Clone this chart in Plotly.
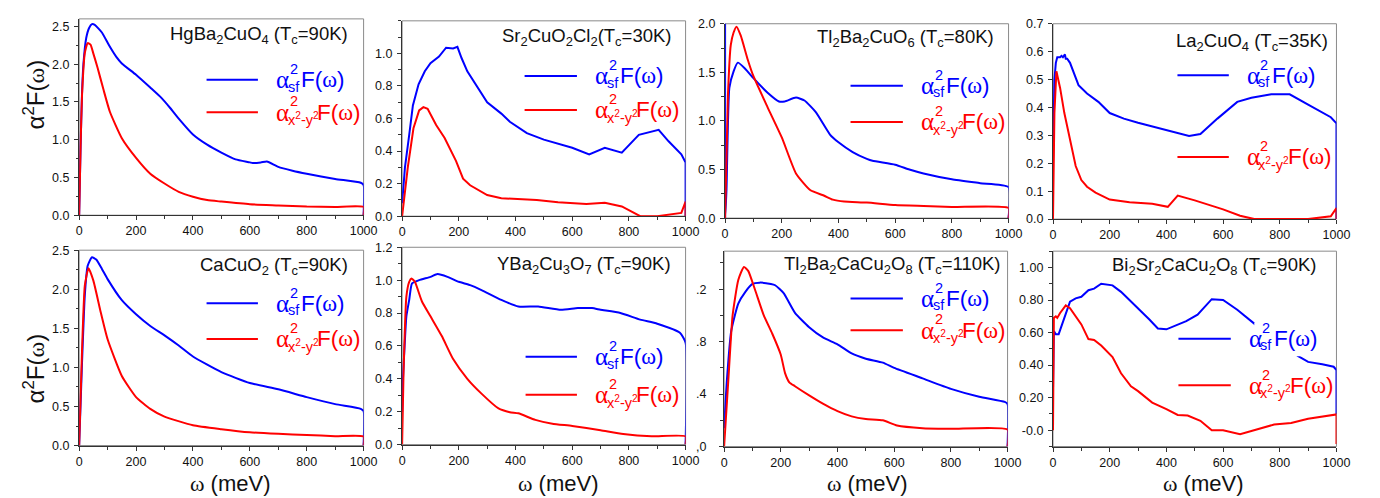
import plotly.graph_objects as go

W, H = 1380, 498

# ------------------------------------------------------------------ data
# 1 HgBa2CuO4
hg_sf_w = [0, 5, 10, 15, 25, 35, 45, 55, 80, 105, 130, 150, 200, 250, 290, 320, 350, 400, 450, 500, 550, 600, 610, 640, 660, 700, 750, 800, 900, 990, 1000, 1000]
hg_sf_a = [0, 0.9, 1.6, 2.0, 2.35, 2.48, 2.53, 2.52, 2.42, 2.25, 2.1, 2.01, 1.86, 1.69, 1.55, 1.42, 1.28, 1.07, 0.935, 0.83, 0.74, 0.70, 0.69, 0.70, 0.71, 0.64, 0.59, 0.55, 0.48, 0.43, 0.40, 0]
hg_d_w = [0, 5, 10, 20, 30, 40, 50, 65, 85, 108, 150, 200, 250, 300, 350, 400, 450, 500, 600, 700, 800, 900, 1000, 1000]
hg_d_a = [0, 0.9, 1.58, 2.15, 2.28, 2.26, 2.14, 1.95, 1.67, 1.37, 1.02, 0.76, 0.55, 0.42, 0.31, 0.245, 0.2, 0.18, 0.145, 0.13, 0.115, 0.11, 0.11, 0]

# 2 Sr2CuO2Cl2
sr_sf_w = [0, 10, 25, 38, 58, 80, 100, 130, 155, 180, 195, 210, 230, 260, 300, 350, 380, 440, 500, 600, 660, 715, 775, 835, 905, 940, 985, 1000, 1000]
sr_sf_a = [0.08, 0.3, 0.5, 0.68, 0.81, 0.89, 0.94, 0.98, 1.035, 1.03, 1.04, 0.97, 0.89, 0.81, 0.70, 0.63, 0.58, 0.51, 0.47, 0.42, 0.38, 0.42, 0.39, 0.50, 0.53, 0.46, 0.38, 0.33, 0]
sr_d_w = [0, 20, 40, 60, 75, 90, 120, 150, 190, 215, 240, 300, 350, 400, 475, 550, 600, 650, 715, 775, 840, 900, 985, 1000, 1000]
sr_d_a = [0, 0.3, 0.54, 0.65, 0.67, 0.66, 0.56, 0.48, 0.34, 0.23, 0.19, 0.13, 0.11, 0.105, 0.10, 0.085, 0.08, 0.075, 0.083, 0.06, 0.0, 0.0, 0.02, 0.09, 0]

# 3 Tl2Ba2CuO6
tl1_sf_w = [0, 0, 5, 15, 30, 45, 70, 100, 150, 190, 210, 250, 280, 320, 370, 400, 450, 500, 520, 600, 650, 700, 800, 900, 1000, 1000]
tl1_sf_a = [2.1, 0, 0.3, 1.34, 1.51, 1.60, 1.54, 1.44, 1.29, 1.20, 1.20, 1.24, 1.21, 1.09, 0.86, 0.78, 0.68, 0.61, 0.59, 0.55, 0.50, 0.46, 0.40, 0.36, 0.32, 0]
tl1_d_w = [0, 10, 20, 30, 40, 55, 80, 100, 150, 200, 250, 300, 350, 380, 420, 500, 600, 700, 800, 1000, 1000]
tl1_d_a = [0, 1.26, 1.78, 1.91, 1.97, 1.88, 1.63, 1.46, 1.14, 0.83, 0.46, 0.29, 0.23, 0.19, 0.17, 0.16, 0.135, 0.125, 0.115, 0.105, 0]

# 4 La2CuO4
la_sf_w = [0, 5, 10, 15, 25, 30, 35, 42, 45, 50, 60, 90, 120, 160, 200, 250, 300, 400, 480, 520, 580, 650, 700, 770, 835, 900, 980, 1000, 1000]
la_sf_a = [0.2, 0.5, 0.56, 0.58, 0.58, 0.585, 0.58, 0.59, 0.575, 0.575, 0.56, 0.48, 0.45, 0.42, 0.38, 0.36, 0.345, 0.32, 0.298, 0.305, 0.36, 0.42, 0.435, 0.447, 0.447, 0.41, 0.365, 0.343, 0]
la_d_w = [0, 5, 12, 25, 40, 60, 80, 100, 120, 150, 200, 270, 350, 405, 440, 500, 600, 660, 710, 900, 980, 1000, 1000]
la_d_a = [0, 0.38, 0.53, 0.47, 0.38, 0.29, 0.19, 0.14, 0.116, 0.095, 0.07, 0.06, 0.055, 0.044, 0.084, 0.067, 0.035, 0.012, 0.0, 0.0, 0.01, 0.04, 0]

# 5 CaCuO2
ca_sf_w = [0, 10, 20, 30, 45, 60, 80, 100, 150, 200, 250, 300, 350, 400, 500, 600, 700, 800, 900, 990, 1000, 1000]
ca_sf_a = [0, 1.05, 1.93, 2.3, 2.41, 2.38, 2.26, 2.13, 1.86, 1.68, 1.53, 1.41, 1.28, 1.14, 0.94, 0.80, 0.72, 0.62, 0.53, 0.47, 0.44, 0]
ca_d_w = [0, 10, 20, 33, 50, 75, 100, 150, 200, 250, 300, 400, 500, 600, 700, 800, 900, 1000, 1000]
ca_d_a = [0, 1.2, 2.05, 2.27, 2.11, 1.72, 1.36, 0.89, 0.62, 0.47, 0.37, 0.26, 0.21, 0.17, 0.15, 0.135, 0.12, 0.115, 0]

# 6 YBa2Cu3O7
y_sf_w = [0, 3, 10, 15, 25, 35, 60, 100, 125, 160, 200, 240, 280, 350, 410, 480, 560, 620, 670, 700, 770, 840, 900, 980, 1000, 1000]
y_sf_a = [0.2, 0.4, 0.64, 0.78, 0.88, 0.98, 1.0, 1.02, 1.037, 1.02, 0.99, 0.97, 0.94, 0.88, 0.84, 0.84, 0.82, 0.83, 0.83, 0.82, 0.80, 0.76, 0.735, 0.68, 0.62, 0]
y_d_w = [0, 5, 15, 25, 33, 45, 70, 100, 140, 180, 230, 280, 340, 380, 410, 470, 530, 600, 700, 780, 880, 1000, 1000]
y_d_a = [0, 0.44, 0.9, 0.99, 1.01, 0.99, 0.87, 0.78, 0.66, 0.52, 0.40, 0.31, 0.22, 0.197, 0.19, 0.15, 0.127, 0.113, 0.087, 0.064, 0.05, 0.05, 0]

# 7 Tl2Ba2CaCu2O8
tl2_sf_w = [0, 10, 25, 50, 75, 100, 125, 165, 180, 210, 250, 300, 350, 400, 450, 500, 560, 600, 700, 800, 900, 990, 1000, 1000]
tl2_sf_a = [0.14, 0.51, 0.88, 1.09, 1.18, 1.24, 1.25, 1.24, 1.23, 1.17, 1.02, 0.91, 0.83, 0.78, 0.71, 0.67, 0.64, 0.60, 0.52, 0.44, 0.38, 0.34, 0.325, 0]
tl2_d_w = [0, 15, 30, 50, 70, 85, 110, 140, 170, 200, 215, 230, 250, 300, 350, 400, 450, 500, 560, 610, 700, 800, 1000, 1000]
tl2_d_a = [0, 0.51, 1.0, 1.27, 1.37, 1.34, 1.19, 1.0, 0.86, 0.70, 0.56, 0.49, 0.46, 0.39, 0.325, 0.27, 0.23, 0.21, 0.20, 0.16, 0.14, 0.135, 0.13, 0]

# 8 Bi2Sr2CaCu2O8
bi_sf_w = [0, 3, 10, 20, 40, 60, 80, 100, 125, 145, 170, 210, 240, 270, 300, 340, 370, 400, 470, 510, 560, 600, 650, 710, 865, 900, 950, 990, 1000, 1000]
bi_sf_a = [0.25, 0.61, 0.59, 0.59, 0.69, 0.79, 0.81, 0.82, 0.86, 0.87, 0.90, 0.89, 0.85, 0.80, 0.75, 0.68, 0.625, 0.62, 0.67, 0.71, 0.805, 0.80, 0.74, 0.655, 0.455, 0.42, 0.405, 0.39, 0.37, 0.1]
bi_d_w = [0, 3, 10, 15, 25, 45, 60, 80, 100, 125, 145, 170, 210, 240, 275, 300, 350, 400, 440, 475, 520, 560, 600, 660, 720, 780, 840, 900, 1000, 1000]
bi_d_a = [0, 0.69, 0.70, 0.69, 0.72, 0.767, 0.75, 0.70, 0.65, 0.56, 0.555, 0.52, 0.45, 0.35, 0.27, 0.24, 0.17, 0.13, 0.094, 0.09, 0.058, 0.0, 0.0, -0.025, 0.005, 0.035, 0.045, 0.07, 0.097, -0.085]

titles = [
    "HgBa<sub>2</sub>CuO<sub>4</sub> (T<sub>c</sub>=90K)",
    "Sr<sub>2</sub>CuO<sub>2</sub>Cl<sub>2</sub>(T<sub>c</sub>=30K)",
    "Tl<sub>2</sub>Ba<sub>2</sub>CuO<sub>6</sub> (T<sub>c</sub>=80K)",
    "La<sub>2</sub>CuO<sub>4</sub> (T<sub>c</sub>=35K)",
    "CaCuO<sub>2</sub> (T<sub>c</sub>=90K)",
    "YBa<sub>2</sub>Cu<sub>3</sub>O<sub>7</sub> (T<sub>c</sub>=90K)",
    "Tl<sub>2</sub>Ba<sub>2</sub>CaCu<sub>2</sub>O<sub>8</sub> (T<sub>c</sub>=110K)",
    "Bi<sub>2</sub>Sr<sub>2</sub>CaCu<sub>2</sub>O<sub>8</sub> (T<sub>c</sub>=90K)",
]

x_tickvals = [0, 200, 400, 600, 800, 1000]
x_ticktext = ["0", "200", "400", "600", "800", "1000"]

y_tickvals = [
    [0, 0.5, 1.0, 1.5, 2.0, 2.5],
    [0, 0.2, 0.4, 0.6, 0.8, 1.0],
    [0, 0.5, 1.0, 1.5, 2.0],
    [0, 0.1, 0.2, 0.3, 0.4, 0.5, 0.6, 0.7],
    [0, 0.5, 1.0, 1.5, 2.0, 2.5],
    [0, 0.2, 0.4, 0.6, 0.8, 1.0, 1.2],
    [0, 0.4, 0.8, 1.2],
    [0, 0.2, 0.4, 0.6, 0.8, 1.0],
]
y_ticktext = [
    ["0.0", "0.5", "1.0", "1.5", "2.0", "2.5"],
    ["0.0", "0.2", "0.4", "0.6", "0.8", "1.0"],
    ["0.0", "0.5", "1.0", "1.5", "2.0"],
    ["0.0", "0.1", "0.2", "0.3", "0.4", "0.5", "0.6", "0.7"],
    ["0.0", "0.5", "1.0", "1.5", "2.0", "2.5"],
    ["0.0", "0.2", "0.4", "0.6", "0.8", "1.0", "1.2"],
    [",0", ".4", ".8", ".2"],
    ["-0.0", "0.20", "0.40", "0.60", "0.80", "1.00"],
]
y_ranges = [[0, 2.6], [0, 1.2], [0, 2.0], [0, 0.7], [0, 2.5], [0, 1.2], [0, 1.49], [-0.1, 1.1]]
y_minor = [0.25, 0.1, 0.25, None, 0.25, 0.1, 0.2, 0.1]
smooth_panel = [True, False, True, False, True, True, True, False]

series = [
    (hg_sf_w, hg_sf_a, hg_d_w, hg_d_a),
    (sr_sf_w, sr_sf_a, sr_d_w, sr_d_a),
    (tl1_sf_w, tl1_sf_a, tl1_d_w, tl1_d_a),
    (la_sf_w, la_sf_a, la_d_w, la_d_a),
    (ca_sf_w, ca_sf_a, ca_d_w, ca_d_a),
    (y_sf_w, y_sf_a, y_d_w, y_d_a),
    (tl2_sf_w, tl2_sf_a, tl2_d_w, tl2_d_a),
    (bi_sf_w, bi_sf_a, bi_d_w, bi_d_a),
]

# ------------------------------------------------------------------ layout (pixels)
boxes = [  # x0, x1, ytop, ybottom
    (69, 357, 4, 206), (396, 683, 6, 207), (723, 1010, 9, 209), (1055, 1342, 9, 210),
    (69, 357, 242, 443), (396, 683, 239, 442), (722, 1009, 243, 444), (1055, 1342, 243, 444),
]
title_pos = [(343, 21), (670, 23), (997, 24), (1335, 28), (343, 258), (670, 257), (1003, 257), (1323, 258)]
legend_pos = [  # line x0, line x1, text x, blue y, red y
    (198, 250, 267, 66.7, 100), (520, 573, 590, 62.7, 97.7), (850, 903, 920, 72.7, 110),
    (1181, 1233, 1250, 62, 146), (198, 250, 267, 296.7, 333.3), (521, 573, 590, 351.7, 390.7),
    (850, 903, 920, 291.7, 324.3), (1182, 1235, 1252, 333, 381),
]

BLUE, RED = "#0000ff", "#ff0000"
SANS = "Liberation Sans, Arial, sans-serif"
SERIF = "Liberation Serif, Times New Roman, serif"


def px(x):
    return x / W


def py(y):
    return 1 - y / H


fig = go.Figure()
annotations = []
shapes = []

for i, (bx0, bx1, bt, bb) in enumerate(boxes):
    n = "" if i == 0 else str(i + 1)
    xa, ya = "x" + n, "y" + n
    sw, sa, dw, da = series[i]
    ls = dict(shape="spline", smoothing=0.5) if smooth_panel[i] else dict(shape="linear")
    fig.add_trace(go.Scatter(x=sw, y=sa, mode="lines", line=dict(color=BLUE, width=2, **ls),
                             xaxis=xa, yaxis=ya, showlegend=False, hoverinfo="skip"))
    fig.add_trace(go.Scatter(x=dw, y=da, mode="lines", line=dict(color=RED, width=2, **ls),
                             xaxis=xa, yaxis=ya, showlegend=False, hoverinfo="skip"))
    axis_common = dict(showgrid=False, zeroline=False, showline=True, linecolor="#333",
                       linewidth=1.3, ticks="outside", ticklen=4, tickcolor="#333",
                       tickfont=dict(family=SANS, size=12.5, color="#111"))
    fig.update_layout(**{
        "xaxis" + n: dict(domain=[px(bx0), px(bx1)], anchor=ya, range=[0, 1000],
                          tickmode="array", tickvals=x_tickvals, ticktext=x_ticktext,
                          minor=dict(dtick=100, ticklen=3, ticks="outside", tickcolor="#333"),
                          **axis_common),
        "yaxis" + n: dict(domain=[py(bb), py(bt)], anchor=xa, range=y_ranges[i],
                          tickmode="array", tickvals=y_tickvals[i], ticktext=y_ticktext[i],
                          ticklabelstandoff=(10 if i == 6 else 2),
                          minor=(dict(dtick=y_minor[i], tick0=0, ticklen=2.5, ticks="outside", tickcolor="#333")
                                 if y_minor[i] else None),
                          **axis_common),
    })
    # gray frame
    shapes.append(dict(type="rect", xref=xa + " domain", yref=ya + " domain", x0=0, x1=1, y0=0, y1=1,
                       line=dict(color="#8a8a8a", width=1), layer="below"))
    # title
    tx, ty = title_pos[i]
    annotations.append(dict(text=titles[i], x=px(tx), y=py(ty), xref="paper", yref="paper",
                            xanchor="right", yanchor="middle", showarrow=False,
                            font=dict(family=SANS, size=18.5, color="#111")))

# white box that hides the curve behind the Bi2212 legend
shapes.append(dict(type="rect", xref="x8", yref="y8", x0=710, x1=912, y0=0.455, y1=0.66,
                   fillcolor="white", line=dict(width=0), layer="above"))

for (lx0, lx1, tx, yb, yr) in legend_pos:
    for yy, col, sub, foff in ((yb, BLUE, "sf", 25), (yr, RED, "x<sup>2</sup>-y<sup>2</sup>", 41)):
        shapes.append(dict(type="line", xref="paper", yref="paper", x0=px(lx0), x1=px(lx1),
                           y0=py(yy), y1=py(yy), line=dict(color=col, width=2), layer="above"))
        annotations.append(dict(text="α", x=px(tx - 1), y=py(yy), xref="paper", yref="paper",
                                xanchor="left", yanchor="middle", showarrow=False,
                                font=dict(family=SERIF, size=25, color=col)))
        annotations.append(dict(text="2", x=px(tx + 13), y=py(yy - 11), xref="paper", yref="paper",
                                xanchor="left", yanchor="middle", showarrow=False,
                                font=dict(family=SANS, size=14.5, color=col)))
        annotations.append(dict(text=sub, x=px(tx + 11), y=py(yy + 7), xref="paper", yref="paper",
                                xanchor="left", yanchor="middle", showarrow=False,
                                font=dict(family=SANS, size=14.5, color=col)))
        annotations.append(dict(text="F(<span style='font-family:Liberation Serif'>ω</span>)",
                                x=px(tx + foff), y=py(yy), xref="paper", yref="paper",
                                xanchor="left", yanchor="middle", showarrow=False,
                                font=dict(family=SANS, size=22.5, color=col)))

# axis titles
for (x, y) in [(23, 82), (23, 364)]:
    annotations.append(dict(text="α<sup>2</sup>F(<span style='font-family:Liberation Serif'>ω</span>)",
                            x=px(x), y=py(y), xref="paper", yref="paper", textangle=-90,
                            xanchor="center", yanchor="middle", showarrow=False,
                            font=dict(family=SANS, size=24, color="#111")))
for x in [222, 554, 867, 1207]:
    annotations.append(dict(text="<span style='font-family:Liberation Serif'>ω</span> (meV)",
                            x=px(x), y=py(482), xref="paper", yref="paper",
                            xanchor="center", yanchor="middle", showarrow=False,
                            font=dict(family=SANS, size=22, color="#111")))

fig.update_layout(width=W, height=H, autosize=False, margin=dict(l=0, r=0, t=0, b=0),
                  paper_bgcolor="white", plot_bgcolor="white",
                  annotations=annotations, shapes=shapes, showlegend=False)

fig.write_html("out.html")
